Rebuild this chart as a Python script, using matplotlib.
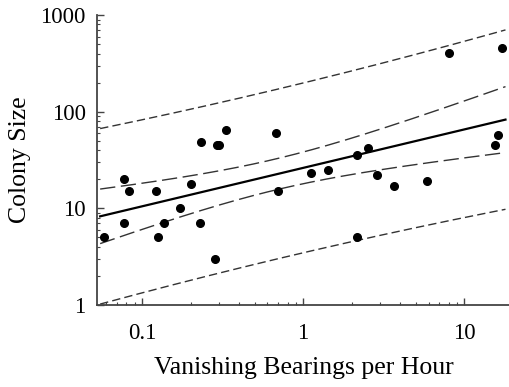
import numpy as np
import matplotlib
matplotlib.use("Agg")
import matplotlib.pyplot as plt
from matplotlib.ticker import LogLocator, FixedLocator, FixedFormatter, NullFormatter

# vanishing bearings per hour vs colony size
bearings = [0.058, 0.077, 0.077, 0.083, 0.122, 0.125, 0.136, 0.171, 0.20, 0.229,
            0.233, 0.283, 0.294, 0.30, 0.334, 0.676, 0.70, 1.12, 1.43, 2.15,
            2.15, 2.51, 2.87, 3.64, 5.83, 8.07, 15.5, 16.1, 17.1]
colony = [5.0, 20.0, 7.0, 15.0, 15.0, 5.0, 7.0, 10.0, 18.0, 7.0,
          49.0, 3.0, 45.0, 45.0, 65.0, 60.0, 15.0, 23.0, 25.0, 35.5,
          5.0, 42.0, 22.0, 17.0, 19.0, 406.0, 45.0, 57.0, 452.0]

x_ticks = [0.1, 1, 10]
x_labels = ["0.1", "1", "10"]
y_ticks = [1, 10, 100, 1000]
y_labels = ["1", "10", "100", "1000"]

plt.rcParams['font.family'] = ['Liberation Serif', 'DejaVu Serif']

# log-log regression with 95% confidence and prediction bands
lx = np.log10(bearings)
ly = np.log10(colony)
n = len(lx)
slope, icpt = np.polyfit(lx, ly, 1)
resid = ly - (icpt + slope * lx)
s = np.sqrt(np.sum(resid ** 2) / (n - 2))
t = 2.052
sxx = np.sum((lx - lx.mean()) ** 2)
xs = np.linspace(np.log10(0.055), np.log10(18.0), 200)
fit = icpt + slope * xs
se_mean = s * np.sqrt(1 / n + (xs - lx.mean()) ** 2 / sxx)
se_pred = s * np.sqrt(1 + 1 / n + (xs - lx.mean()) ** 2 / sxx)

fig = plt.figure(figsize=(5.1, 3.87), dpi=100)
ax = fig.add_axes([0.19, 0.212, 0.81, 0.749])

xx = 10 ** xs
ax.plot(xx, 10 ** fit, color='black', lw=1.6)
ax.plot(xx, 10 ** (fit + t * se_mean), color='#333333', lw=1.0, dashes=(11, 4))
ax.plot(xx, 10 ** (fit - t * se_mean), color='#333333', lw=1.0, dashes=(11, 4))
ax.plot(xx, 10 ** (fit + t * se_pred), color='#333333', lw=1.0, dashes=(6, 3))
ax.plot(xx, 10 ** (fit - t * se_pred), color='#333333', lw=1.0, dashes=(6, 3))
ax.plot(bearings, colony, 'o', color='black', ms=5.5, clip_on=False)

ax.set_xscale('log')
ax.set_yscale('log')
ax.set_xlim(0.0525, 19.2)
ax.set_ylim(1, 1000)

ax.xaxis.set_major_locator(FixedLocator(x_ticks))
ax.xaxis.set_major_formatter(FixedFormatter(x_labels))
ax.yaxis.set_major_locator(FixedLocator(y_ticks))
ax.yaxis.set_major_formatter(FixedFormatter(y_labels))
ax.xaxis.set_minor_locator(LogLocator(base=10, subs=np.arange(2, 10)))
ax.yaxis.set_minor_locator(LogLocator(base=10, subs=np.arange(2, 10)))
ax.xaxis.set_minor_formatter(NullFormatter())
ax.yaxis.set_minor_formatter(NullFormatter())

for side in ['top', 'right']:
    ax.spines[side].set_visible(False)
for side in ['left', 'bottom']:
    ax.spines[side].set_color('#444444')
    ax.spines[side].set_linewidth(1.3)

ax.tick_params(which='major', direction='in', length=5, width=1, color='#444444',
               labelsize=16.5)
ax.tick_params(axis='x', which='major', pad=13)
ax.tick_params(axis='y', which='major', pad=8)
ax.tick_params(which='minor', direction='in', length=2.5, width=0.8, color='#444444')

ax.set_xlabel('Vanishing Bearings per Hour', fontsize=18.5, labelpad=9)
ax.set_ylabel('Colony Size', fontsize=18.5, labelpad=7)

fig.savefig('out.png', dpi=100)
